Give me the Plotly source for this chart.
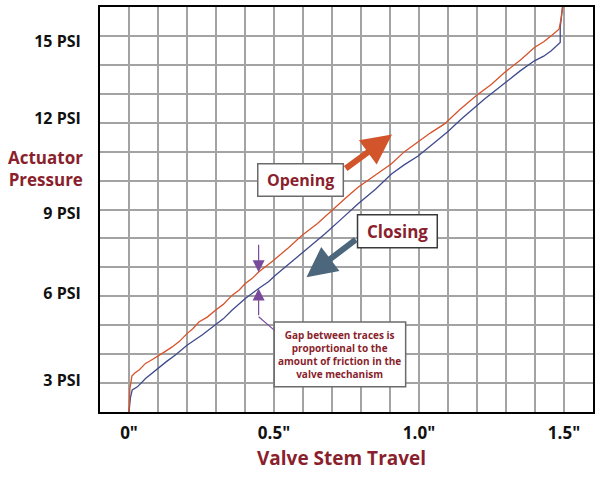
import plotly.graph_objects as go

# Opening (increasing pressure) trace, x in inches, y in PSI
open_x = [0, 0.003, 0.01, 0.02, 0.035, 0.057, 0.075, 0.097, 0.12, 0.149, 0.175, 0.2, 0.22, 0.241,
          0.27, 0.298, 0.325, 0.355, 0.38, 0.401, 0.425, 0.447, 0.47, 0.498, 0.55, 0.596, 0.65,
          0.699, 0.75, 0.79, 0.85, 0.905, 0.95, 0.997, 1.04, 1.088, 1.14, 1.197, 1.25, 1.294,
          1.35, 1.398, 1.43, 1.455, 1.483, 1.49, 1.495]
open_y = [2.0, 2.8, 3.24, 3.35, 3.45, 3.68, 3.78, 3.91, 4.06, 4.25, 4.45, 4.71, 4.88, 5.11,
          5.28, 5.52, 5.72, 6.03, 6.22, 6.44, 6.62, 6.84, 7.02, 7.24, 7.68, 8.1, 8.52,
          8.97, 9.42, 9.77, 10.18, 10.58, 11.0, 11.35, 11.65, 11.96, 12.45, 12.93, 13.33, 13.73,
          14.17, 14.6, 14.8, 15.0, 15.23, 15.6, 16.0]

# Closing (decreasing pressure) trace
close_x = [0, 0.005, 0.011, 0.029, 0.057, 0.08, 0.103, 0.13, 0.16, 0.2, 0.252, 0.298, 0.325,
           0.355, 0.401, 0.447, 0.481, 0.504, 0.55, 0.596, 0.676, 0.73, 0.79, 0.85, 0.905, 0.95,
           0.997, 1.054, 1.1, 1.146, 1.226, 1.306, 1.35, 1.398, 1.43, 1.455, 1.487, 1.487, 1.495]
close_y = [2.0, 2.5, 2.76, 2.87, 3.16, 3.35, 3.56, 3.75, 3.97, 4.31, 4.66, 5.0, 5.22,
           5.52, 5.92, 6.27, 6.5, 6.72, 7.1, 7.47, 8.16, 8.65, 9.2, 9.7, 10.23, 10.55,
           10.85, 11.32, 11.7, 12.13, 12.82, 13.45, 13.8, 14.14, 14.3, 14.48, 14.77, 15.3, 16.0]

x_tick_vals = [0, 0.5, 1.0, 1.5]
x_tick_text = ['0"', '0.5"', '1.0"', '1.5"']
y_tick_vals = [3.1, 6.1, 8.85, 12.15, 14.8]
y_tick_text = ['3 PSI', '6 PSI', '9 PSI', '12 PSI', '15 PSI']

DARK_RED = '#8a1f2d'
GRID = '#a3a3a3'
FONT = 'Open Sans'

fig = go.Figure()
fig.add_trace(go.Scatter(x=close_x, y=close_y, mode='lines',
                         line=dict(color='#3e4a8e', width=1.3), hoverinfo='skip'))
fig.add_trace(go.Scatter(x=open_x, y=open_y, mode='lines',
                         line=dict(color='#d6532b', width=1.3), hoverinfo='skip'))

shapes = [
    # Opening box
    dict(type='rect', xref='x', yref='y', x0=0.444, x1=0.739, y0=9.46, y1=10.58,
         line=dict(color='#6b6b6b', width=1.5), fillcolor='white', layer='above'),
    # Closing box
    dict(type='rect', xref='x', yref='y', x0=0.788, x1=1.063, y0=7.68, y1=8.82,
         line=dict(color='#3a3a3a', width=1.5), fillcolor='white', layer='above'),
    # Gap note box
    dict(type='rect', xref='x', yref='y', x0=0.5007, x1=0.954, y0=2.87, y1=5.11,
         line=dict(color='#6b6b6b', width=1.5), fillcolor='white', layer='above'),
    # leader line from gap arrow to box
    dict(type='line', xref='x', yref='y', x0=0.447, y0=5.29, x1=0.5007, y1=4.83,
         line=dict(color='#7a4a9a', width=1.2), layer='above'),
]

annotations = [
    # thick arrows
    dict(x=0.907, y=11.59, ax=0.742, ay=10.38, xref='x', yref='y', axref='x', ayref='y',
         showarrow=True, arrowhead=2, arrowsize=1.0, arrowwidth=6, arrowcolor='#d2542a', text=''),
    dict(x=0.612, y=6.66, ax=0.787, ay=8.0, xref='x', yref='y', axref='x', ayref='y',
         showarrow=True, arrowhead=2, arrowsize=1.0, arrowwidth=6, arrowcolor='#4c677b', text=''),
    # gap arrows
    dict(x=0.447, y=6.83, ax=0.447, ay=7.83, xref='x', yref='y', axref='x', ayref='y',
         showarrow=True, arrowhead=2, arrowsize=2, arrowwidth=1.2, arrowcolor='#7a4a9a', text=''),
    dict(x=0.447, y=6.27, ax=0.447, ay=5.29, xref='x', yref='y', axref='x', ayref='y',
         showarrow=True, arrowhead=2, arrowsize=2, arrowwidth=1.2, arrowcolor='#7a4a9a', text=''),
    # box texts
    dict(x=(0.444 + 0.739) / 2, y=(9.46 + 10.58) / 2, xref='x', yref='y', showarrow=False,
         text='<b>Opening</b>', font=dict(family=FONT, size=16, color=DARK_RED)),
    dict(x=(0.788 + 1.063) / 2, y=(7.68 + 8.82) / 2, xref='x', yref='y', showarrow=False,
         text='<b>Closing</b>', font=dict(family=FONT, size=17, color=DARK_RED)),
    dict(x=(0.5007 + 0.954) / 2, y=(2.87 + 5.11) / 2, xref='x', yref='y', showarrow=False,
         text='<b>Gap between traces is<br>proportional to the<br>amount of friction in the<br>valve mechanism</b>',
         align='center', font=dict(family=FONT, size=10, color=DARK_RED)),
    # axis titles
    dict(x=-0.03, y=0.601, xref='paper', yref='paper', xanchor='right', yanchor='middle',
         showarrow=False, align='right', text='<b>Actuator<br>Pressure</b>',
         font=dict(family=FONT, size=17, color=DARK_RED)),
    dict(x=0.49, y=-0.113, xref='paper', yref='paper', xanchor='center', yanchor='middle',
         showarrow=False, text='<b>Valve Stem Travel</b>',
         font=dict(family=FONT, size=19, color=DARK_RED)),
]

fig.update_layout(
    width=600, height=487,
    margin=dict(l=100, r=5, t=6, b=75),
    paper_bgcolor='white', plot_bgcolor='white',
    showlegend=False,
    shapes=shapes,
    annotations=annotations,
    xaxis=dict(range=[-0.1, 1.6], tickmode='array', tickvals=x_tick_vals, ticktext=x_tick_text,
               showgrid=True, gridcolor=GRID, gridwidth=1.5, zeroline=False,
               showline=True, mirror=True, linecolor='black', linewidth=2,
               ticks='', ticklabelstandoff=5,
               tickfont=dict(family=FONT, size=17, color='#111111', weight=700),
               minor=dict(tickmode='linear', tick0=0, dtick=0.1, showgrid=True,
                          gridcolor=GRID, gridwidth=1.5)),
    yaxis=dict(range=[2, 16], tickmode='array', tickvals=y_tick_vals, ticktext=y_tick_text,
               showgrid=False, zeroline=False,
               showline=True, mirror=True, linecolor='black', linewidth=2,
               ticks='', ticklabelstandoff=14,
               tickfont=dict(family=FONT, size=16, color='#111111', weight=700),
               minor=dict(tickmode='linear', tick0=2, dtick=1, showgrid=True,
                          gridcolor=GRID, gridwidth=1.5)),
)

fig.write_html('out.html', config={'displayModeBar': False},
               post_script="document.body.style.margin='0';")
